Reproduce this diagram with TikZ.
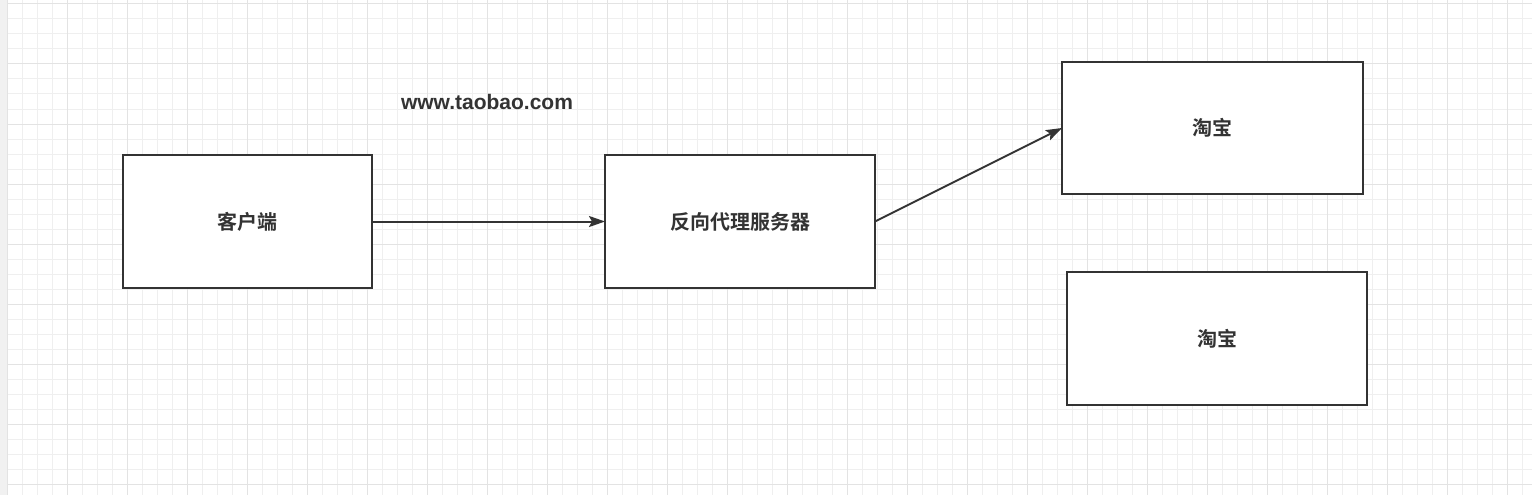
\documentclass[tikz,border=0pt]{standalone}
\usepackage{fontspec}
\setmainfont{Liberation Sans}
\newfontfamily\cjk{Noto Sans CJK SC}[BoldFont={Noto Sans CJK SC Bold}]
\usetikzlibrary{arrows.meta}
\definecolor{ink}{HTML}{333333}
\definecolor{gridminor}{HTML}{EFEFEF}
\definecolor{gridmajor}{HTML}{E3E3E3}
\definecolor{strip}{HTML}{F1F1F1}
\begin{document}
\begin{tikzpicture}[x=1pt,y=-1pt,
  box/.style={draw=ink, line width=2pt, fill=white, inner sep=0pt, outer sep=0pt, anchor=north west,
    font=\cjk\bfseries\fontsize{20}{24}\selectfont, text=ink},
  conn/.style={draw=ink, line width=2pt, -{Stealth[length=16pt,width=11pt,inset=3pt]}}]
\useasboundingbox (0,0) rectangle (1532,495);
\fill[white] (0,0) rectangle (1532,495);
\foreach \x in {7,22,...,1532} \draw[gridminor, line width=1pt] (\x,0) -- (\x,495);
\foreach \y in {4,19,...,495} \draw[gridminor, line width=1pt] (0,\y) -- (1532,\y);
\foreach \x in {7,67,...,1532} \draw[gridmajor, line width=1pt] (\x,0) -- (\x,495);
\foreach \y in {4,64,...,495} \draw[gridmajor, line width=1pt] (0,\y) -- (1532,\y);
\fill[strip] (0,0) rectangle (7,495);

\node[box, minimum width=249pt, minimum height=133pt] (client) at (123,155) {客户端};
\node[box, minimum width=270pt, minimum height=133pt] (proxy) at (605,155) {反向代理服务器};
\node[box, minimum width=301pt, minimum height=132pt] (tb1) at (1062,62) {淘宝};
\node[box, minimum width=300pt, minimum height=133pt] (tb2) at (1067,272) {淘宝};
\node[font=\bfseries\fontsize{21}{25}\selectfont, text=ink] (url) at (487,102) {www.taobao.com};

\draw[conn] (client.east) -- (proxy.west);
\draw[conn] (proxy.east) -- (tb1.west);
\end{tikzpicture}
\end{document}
